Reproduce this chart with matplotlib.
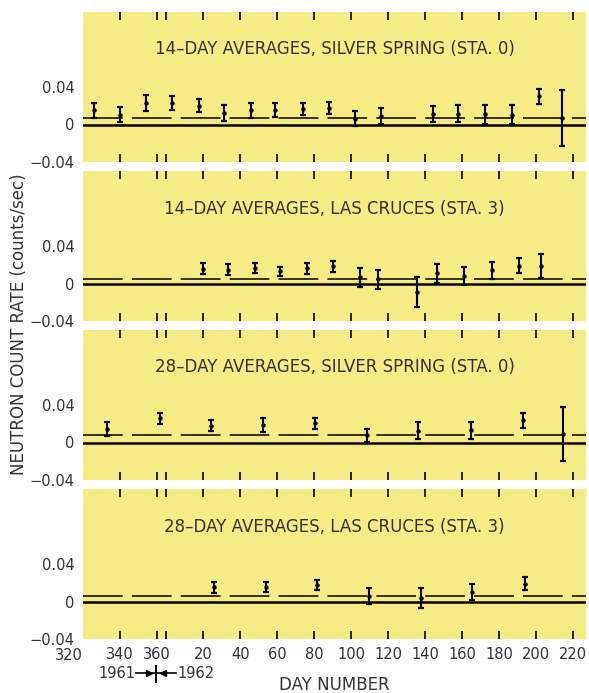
import matplotlib.pyplot as plt
from matplotlib.lines import Line2D

# day number, counted on past 365 into 1962 (day 20 of 1962 -> 385)
tick_days = [340, 360, 365, 385, 405, 425, 445, 465, 485, 505, 525, 545, 565, 585]
label_days = [340, 360, 385, 405, 425, 445, 465, 485, 505, 525, 545, 565, 585]
label_text = ["340", "360", "20", "40", "60", "80", "100", "120", "140",
              "160", "180", "200", "220"]

titles = ["14–DAY AVERAGES, SILVER SPRING (STA. 0)",
          "14–DAY AVERAGES, LAS CRUCES (STA. 3)",
          "28–DAY AVERAGES, SILVER SPRING (STA. 0)",
          "28–DAY AVERAGES, LAS CRUCES (STA. 3)"]

# 14-day, Silver Spring
p1_day = [326, 340, 354, 368, 382.5, 396.5, 411, 424, 439, 453, 467, 481,
          509, 523, 537.5, 552, 566.5, 579]
p1_val = [0.015, 0.0105, 0.023, 0.023, 0.020, 0.0126, 0.0153, 0.0153, 0.0162,
          0.018, 0.006, 0.009, 0.011, 0.0117, 0.011, 0.0105, 0.030, 0.007]
p1_err = [0.008, 0.008, 0.0084, 0.007, 0.007, 0.0084, 0.008, 0.0075, 0.0065,
          0.0065, 0.008, 0.0083, 0.0083, 0.0093, 0.010, 0.0098, 0.0083, 0.0295]

# 14-day, Las Cruces
p2_day = [385, 398.5, 413, 426.7, 441, 455, 469.7, 479.6, 500.6, 511.4,
          525.8, 541.2, 555.6, 567.6]
p2_val = [0.016, 0.0146, 0.0163, 0.0131, 0.0164, 0.0185, 0.0066, 0.0044,
          -0.0092, 0.0107, 0.0075, 0.0139, 0.019, 0.0188]
p2_err = [0.0057, 0.006, 0.0053, 0.005, 0.006, 0.0057, 0.0098, 0.0101,
          0.016, 0.0103, 0.0096, 0.0089, 0.008, 0.0132]

# 28-day, Silver Spring
p3_day = [333, 361.7, 389, 417.2, 445.4, 473.6, 501.1, 529.9, 557.7, 579.3]
p3_val = [0.0149, 0.0258, 0.018, 0.0188, 0.0203, 0.0075, 0.0128, 0.0132,
          0.0235, 0.0091]
p3_err = [0.0075, 0.0059, 0.0062, 0.0071, 0.0057, 0.0071, 0.0089, 0.0092,
          0.0078, 0.0293]

# 28-day, Las Cruces
p4_day = [390.8, 418.7, 446.7, 474.7, 502.6, 530.4, 559]
p4_val = [0.0153, 0.0156, 0.0181, 0.0059, 0.0037, 0.0103, 0.0192]
p4_err = [0.006, 0.005, 0.0053, 0.0084, 0.0105, 0.0085, 0.0068]

levels = [0.007, 0.0053, 0.0075, 0.0064]

panels = [(p1_day, p1_val, p1_err), (p2_day, p2_val, p2_err),
          (p3_day, p3_val, p3_err), (p4_day, p4_val, p4_err)]

yellow = "#f5ec86"
txt = "#333333"
W, H = 589, 693

fig = plt.figure(figsize=(W / 100, H / 100), dpi=100)

tops = [12, 171, 330, 489]
for i, (days, vals, errs) in enumerate(panels):
    ax = fig.add_axes([83 / W, 1 - (tops[i] + 150) / H, 503 / W, 150 / H])
    ax.set_facecolor(yellow)
    for s in ax.spines.values():
        s.set_visible(False)
    ax.set_xlim(320, 592)
    ax.set_ylim(-0.04, 0.12)

    ax.axhline(0, color="black", lw=1.8, zorder=2)
    ax.axhline(levels[i], color="black", lw=1.1, dashes=(26, 6), zorder=2)
    ax.errorbar(days, vals, yerr=errs, fmt="o", ms=2.2, color="black",
                ecolor="black", elinewidth=1.5, capsize=2.5, capthick=1.6,
                zorder=3)

    ax.text(0.5, 0.08, titles[i], transform=ax.get_yaxis_transform(),
            ha="center", va="center", fontsize=12, color=txt)

    # tick marks inside, top and bottom
    ax.set_xticks(tick_days)
    ax.tick_params(axis="x", which="major", direction="in", top=True,
                   bottom=True, length=5.5, width=1.2, labelbottom=False)
    ax.xaxis.remove_overlapping_locs = False
    ax.set_xticks(label_days, minor=True)
    if i == 3:
        ax.set_xticklabels(label_text, minor=True)
        ax.tick_params(axis="x", which="minor", length=0, pad=6,
                       labelsize=10.5, labelcolor=txt)
        ax.text(320, -0.04 - 0.0095, "320", ha="right", va="top",
                fontsize=10.5, color=txt)
    else:
        ax.tick_params(axis="x", which="minor", length=0, labelbottom=False)

    ax.set_yticks([-0.04, 0, 0.04])
    ax.set_yticklabels(["−0.04", "0", "0.04"])
    ax.tick_params(axis="y", which="major", length=0, pad=6, labelsize=10.5,
                   labelcolor=txt)
    ax.set_yticks([0.04], minor=True)
    ax.tick_params(axis="y", which="minor", direction="in", left=True,
                   right=True, length=7, width=1.6)

fig.text(19.5 / W, 1 - 324 / H, "NEUTRON COUNT RATE (counts/sec)",
         rotation=90, ha="center", va="center", fontsize=12, color=txt)
fig.text(334 / W, 1 - 685 / H, "DAY NUMBER", ha="center", va="center",
         fontsize=12, color=txt)

# 1961 -> | <- 1962 marker under the year boundary
yy = 1 - 673 / H
fig.text(135 / W, yy, "1961", ha="right", va="center", fontsize=10.5, color=txt)
fig.text(177 / W, yy, "1962", ha="left", va="center", fontsize=10.5, color=txt)
fig.add_artist(Line2D([136 / W, 176 / W], [yy, yy], color="black", lw=1.2))
fig.add_artist(Line2D([156 / W, 156 / W], [1 - 666 / H, 1 - 682 / H],
                      color="black", lw=1.4))
fig.add_artist(Line2D([149 / W], [yy], marker=">", ms=4, color="black"))
fig.add_artist(Line2D([163 / W], [yy], marker="<", ms=4, color="black"))

fig.savefig("out.png", dpi=100, facecolor="white")
